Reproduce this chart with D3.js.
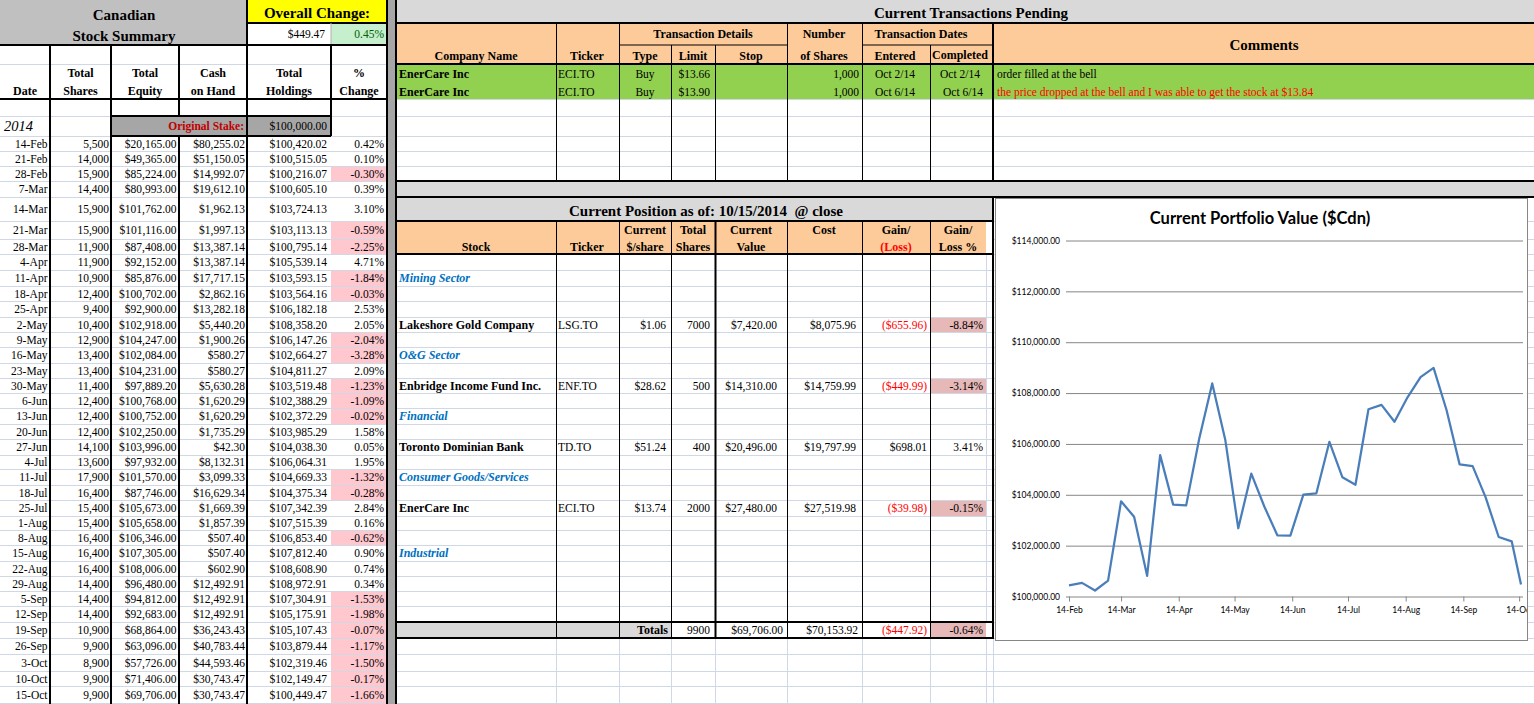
<!DOCTYPE html>
<html>
<head>
<meta charset="utf-8">
<script src="https://cdn.jsdelivr.net/npm/d3@7"></script>
<style>
  body { margin: 0; background: #fff; overflow: hidden; }
  svg text { font-family: "Liberation Serif", "Times New Roman", serif; white-space: pre; }
  .chart text { font-family: Lato, "Open Sans", sans-serif; }
</style>
</head>
<body>
<script>
(function (d3) {
  "use strict";

  /***** Données *****/
  // Résumé hebdomadaire (colonne de gauche)
  var weekLabels = ["14-Feb", "21-Feb", "28-Feb", "7-Mar", "14-Mar", "21-Mar", "28-Mar", "4-Apr", "11-Apr",
    "18-Apr", "25-Apr", "2-May", "9-May", "16-May", "23-May", "30-May", "6-Jun", "13-Jun", "20-Jun", "27-Jun",
    "4-Jul", "11-Jul", "18-Jul", "25-Jul", "1-Aug", "8-Aug", "15-Aug", "22-Aug", "29-Aug", "5-Sep", "12-Sep",
    "19-Sep", "26-Sep", "3-Oct", "10-Oct", "15-Oct"];
  var totalShares = [5500, 14000, 15900, 14400, 15900, 15900, 11900, 11900, 10900, 12400, 9400, 10400, 12900,
    13400, 13400, 11400, 12400, 12400, 12400, 14100, 13600, 17900, 16400, 15400, 15400, 16400, 16400, 16400,
    14400, 14400, 14400, 10900, 9900, 8900, 9900, 9900];
  var totalEquity = [20165, 49365, 85224, 80993, 101762, 101116, 87408, 92152, 85876, 100702, 92900, 102918,
    104247, 102084, 104231, 97889.20, 100768, 100752, 102250, 103996, 97932, 101570, 87746, 105673, 105658,
    106346, 107305, 108006, 96480, 94812, 92683, 68864, 63096, 57726, 71406, 69706];
  var cashOnHand = [80255.02, 51150.05, 14992.07, 19612.10, 1962.13, 1997.13, 13387.14, 13387.14, 17717.15,
    2862.16, 13282.18, 5440.20, 1900.26, 580.27, 580.27, 5630.28, 1620.29, 1620.29, 1735.29, 42.30, 8132.31,
    3099.33, 16629.34, 1669.39, 1857.39, 507.40, 507.40, 602.90, 12492.91, 12492.91, 12492.91, 36243.43,
    40783.44, 44593.46, 30743.47, 30743.47];
  var totalHoldings = [100420.02, 100515.05, 100216.07, 100605.10, 103724.13, 103113.13, 100795.14, 105539.14,
    103593.15, 103564.16, 106182.18, 108358.20, 106147.26, 102664.27, 104811.27, 103519.48, 102388.29,
    102372.29, 103985.29, 104038.30, 106064.31, 104669.33, 104375.34, 107342.39, 107515.39, 106853.40,
    107812.40, 108608.90, 108972.91, 107304.91, 105175.91, 105107.43, 103879.44, 102319.46, 102149.47,
    100449.47];
  var pctChange = [0.42, 0.10, -0.30, 0.39, 3.10, -0.59, -2.25, 4.71, -1.84, -0.03, 2.53, 2.05, -2.04, -3.28,
    2.09, -1.23, -1.09, -0.02, 1.58, 0.05, 1.95, -1.32, -0.28, 2.84, 0.16, -0.62, 0.90, 0.74, 0.34, -1.53,
    -1.98, -0.07, -1.17, -1.50, -0.17, -1.66];
  var originalStake = 100000;
  var overallChange = 449.47;
  var overallChangePct = 0.45;

  // Transactions en attente
  var pendingCompany = ["EnerCare Inc", "EnerCare Inc"];
  var pendingTicker = ["ECI.TO", "ECI.TO"];
  var pendingType = ["Buy", "Buy"];
  var pendingLimit = [13.66, 13.90];
  var pendingShares = [1000, 1000];
  var pendingEntered = ["Oct 2/14", "Oct 6/14"];
  var pendingCompleted = ["Oct 2/14", "Oct 6/14"];
  var pendingComments = ["order filled at the bell",
    "the price dropped at the bell and I was able to get the stock at $13.84"];

  // Position actuelle
  var sectorNames = ["Mining Sector", "O&G Sector", "Financial", "Consumer Goods/Services", "Industrial"];
  var stockNames = ["Lakeshore Gold Company", "Enbridge Income Fund Inc.", "Toronto Dominian Bank", "EnerCare Inc"];
  var stockTickers = ["LSG.TO", "ENF.TO", "TD.TO", "ECI.TO"];
  var stockPrice = [1.06, 28.62, 51.24, 13.74];
  var stockShares = [7000, 500, 400, 2000];
  var stockValue = [7420.00, 14310.00, 20496.00, 27480.00];
  var stockCost = [8075.96, 14759.99, 19797.99, 27519.98];
  var stockGain = [-655.96, -449.99, 698.01, -39.98];
  var stockGainPct = [-8.84, -3.14, 3.41, -0.15];
  var totalsValues = [9900, 69706.00, 70153.92, -447.92, -0.64];

  // Graphique
  var chartXTicks = ["14-Feb", "14-Mar", "14-Apr", "14-May", "14-Jun", "14-Jul", "14-Aug", "14-Sep", "14-Oct"];
  var chartYTicks = [100000, 102000, 104000, 106000, 108000, 110000, 112000, 114000];

  /***** Mise en page *****/
  var W = 1534, H = 704;
  var rowY = [0, 23, 45, 64, 82, 99, 116, 136, 151, 166, 181, 197, 221, 239, 254, 270, 286, 301, 317, 332,
    347, 363, 378, 393, 408, 424, 439, 455, 469, 485, 500, 516, 530, 545, 561, 576, 591, 606, 622, 638, 654,
    671, 686, 703];
  var leftCol = [0, 50, 111, 179, 247, 331, 387];
  var rightCol = [397, 556, 619, 671, 715, 787, 862, 930, 986, 993];
  var firstDataRow = 7;
  var sectorRowIdx = [15, 20, 24, 28, 33];
  var stockRowIdx = [18, 22, 26, 30];
  var totalsRowIdx = 38;

  var GRID = "#d0d7e5", ORANGE = "#fdcb99", GREY = "#d9d9d9", GREEN = "#92d050";

  var locale = d3.formatLocale({ decimal: ".", thousands: ",", grouping: [3], currency: ["$", ""], minus: "-" });
  var fmtMoney = locale.format("$,.2f");
  var fmtGain = locale.format("($,.2f");
  var fmtInt = locale.format(",d");
  var fmt2 = locale.format(".2f");
  function fmtPct(v) { return fmt2(v) + "%"; }

  var svg = d3.select("body").append("svg").attr("width", W).attr("height", H);
  var gGrid = svg.append("g");
  var gFill = svg.append("g");
  var gLine = svg.append("g");
  var gText = svg.append("g");

  function mid(i0, i1) { return (rowY[i0] + rowY[i1]) / 2; }

  function fill(x0, y0, x1, y1, c) {
    gFill.append("rect").attr("x", x0).attr("y", y0)
      .attr("width", x1 - x0).attr("height", y1 - y0).attr("fill", c);
  }
  function hline(g, x0, x1, y, c, w) {
    g.append("line").attr("x1", x0).attr("x2", x1).attr("y1", y).attr("y2", y)
      .attr("stroke", c).attr("stroke-width", w || 1);
  }
  function vline(g, x, y0, y1, c, w) {
    g.append("line").attr("x1", x).attr("x2", x).attr("y1", y0).attr("y2", y1)
      .attr("stroke", c).attr("stroke-width", w || 1);
  }
  function txt(x, y, s, o) {
    o = o || {};
    gText.append("text").attr("x", x).attr("y", y)
      .attr("dy", "0.35em")
      .attr("text-anchor", o.anchor || "start")
      .attr("font-size", (o.size || 11.5) + "px")
      .attr("font-weight", o.weight || "normal")
      .attr("font-style", o.style || "normal")
      .attr("fill", o.fill || "#000")
      .text(s);
  }

  /***** Quadrillage de la feuille *****/
  rowY.forEach(function (y, i) {
    if (i === 0 || i === 4) return;
    hline(gGrid, 0, W, y + 0.5, GRID);
  });
  rightCol.slice(1).forEach(function (x) { vline(gGrid, x + 0.5, rowY[39], H, GRID); });
  vline(gGrid, 986.5, rowY[14], rowY[38], GRID);

  /***** Bloc de gauche : résumé *****/
  fill(0, 0, 247, rowY[2], "#c0c0c0");
  fill(247, 0, 387, rowY[1], "#ffff00");
  fill(247, rowY[1], 331, rowY[2], "#fff");
  fill(331, rowY[1], 387, rowY[2], "#c6efce");
  fill(0, rowY[2], 387, rowY[3], "#fff");
  fill(0, rowY[3] + 1, 387, rowY[5], "#fff");
  fill(111, rowY[6], 331, rowY[7], "#a6a6a6");

  txt(124, mid(0, 1) + 3, "Canadian", { anchor: "middle", size: 15, weight: "bold" });
  txt(124, mid(1, 2) + 2, "Stock Summary", { anchor: "middle", size: 15, weight: "bold" });
  txt(317, mid(0, 1) + 1.5, "Overall Change:", { anchor: "middle", size: 15, weight: "bold" });
  txt(325, mid(1, 2), fmtMoney(overallChange), { anchor: "end" });
  txt(384, mid(1, 2), fmtPct(overallChangePct), { anchor: "end", fill: "#006100" });

  var leftHeads = [["", "Date"], ["Total", "Shares"], ["Total", "Equity"], ["Cash", "on Hand"],
    ["Total", "Holdings"], ["%", "Change"]];
  leftHeads.forEach(function (h, j) {
    var cx = (leftCol[j] + leftCol[j + 1]) / 2;
    if (h[0]) txt(cx, mid(3, 4), h[0], { anchor: "middle", size: 12, weight: "bold" });
    txt(cx, mid(4, 5), h[1], { anchor: "middle", size: 12, weight: "bold" });
  });

  txt(4, mid(6, 7), "2014", { size: 14.5, style: "italic" });
  txt(244, mid(6, 7), "Original Stake:", { anchor: "end", weight: "bold", fill: "#c00000" });
  txt(327, mid(6, 7), fmtMoney(originalStake), { anchor: "end" });

  weekLabels.forEach(function (d, i) {
    var r = firstDataRow + i, cy = mid(r, r + 1);
    if (pctChange[i] < 0) fill(331, rowY[r] + 1, 386, rowY[r + 1], "#ffc7ce");
    txt(47.5, cy, d, { anchor: "end" });
    txt(109, cy, fmtInt(totalShares[i]), { anchor: "end" });
    txt(176.5, cy, fmtMoney(totalEquity[i]), { anchor: "end" });
    txt(245, cy, fmtMoney(cashOnHand[i]), { anchor: "end" });
    txt(327, cy, fmtMoney(totalHoldings[i]), { anchor: "end" });
    txt(384, cy, fmtPct(pctChange[i]), { anchor: "end" });
  });

  // bordures
  vline(gLine, 247, 0, rowY[2], "#000", 2);
  hline(gLine, 247, 387, rowY[1], "#000", 2);
  vline(gLine, 331, rowY[1], rowY[2], "#b0b0b0", 1);
  hline(gLine, 0, 388, rowY[2], "#000", 2);
  hline(gLine, 0, 388, rowY[5], "#000", 2);
  [50, 111, 247].forEach(function (x) { vline(gLine, x, rowY[2], H, "#000", 2); });
  vline(gLine, 179, rowY[2], rowY[6], "#000", 2);
  vline(gLine, 179, rowY[7], H, "#000", 2);
  vline(gLine, 331, rowY[2], rowY[7], "#000", 2);
  hline(gLine, 111, 331, rowY[6], "#000", 2);
  hline(gLine, 111, 331, rowY[7], "#000", 2);
  vline(gLine, 387, 0, H, "#000", 2);

  // colonne séparatrice
  fill(388, 0, 395, H, "#a6a6a6");
  vline(gLine, 396, 0, H, "#000", 2);

  /***** Transactions en attente *****/
  fill(397, 0, W, rowY[1], GREY);
  fill(397, rowY[1], W, rowY[3], ORANGE);
  fill(397, rowY[3], W, rowY[5], GREEN);
  fill(397, rowY[10], W, rowY[11], GREY);

  txt(971, mid(0, 1) + 1.5, "Current Transactions Pending", { anchor: "middle", size: 15, weight: "bold" });
  txt(476, mid(2, 3) + 1.5, "Company Name", { anchor: "middle", size: 12, weight: "bold" });
  txt(587, mid(2, 3) + 1.5, "Ticker", { anchor: "middle", size: 12, weight: "bold" });
  txt(703, mid(1, 2), "Transaction Details", { anchor: "middle", size: 12, weight: "bold" });
  txt(645, mid(2, 3) + 1.5, "Type", { anchor: "middle", size: 12, weight: "bold" });
  txt(693, mid(2, 3) + 1.5, "Limit", { anchor: "middle", size: 12, weight: "bold" });
  txt(751, mid(2, 3) + 1.5, "Stop", { anchor: "middle", size: 12, weight: "bold" });
  txt(824, mid(1, 2), "Number", { anchor: "middle", size: 12, weight: "bold" });
  txt(824, mid(2, 3) + 1.5, "of Shares", { anchor: "middle", size: 12, weight: "bold" });
  txt(921, mid(1, 2), "Transaction Dates", { anchor: "middle", size: 12, weight: "bold" });
  txt(895, mid(2, 3) + 1.5, "Entered", { anchor: "middle", size: 12, weight: "bold" });
  txt(960, mid(2, 3), "Completed", { anchor: "middle", size: 12, weight: "bold" });
  txt(1264, mid(1, 3) + 1.5, "Comments", { anchor: "middle", size: 15, weight: "bold" });

  pendingCompany.forEach(function (c, i) {
    var cy = mid(3 + i, 4 + i) + 1;
    txt(399, cy, c, { weight: "bold", size: 12 });
    txt(558, cy, pendingTicker[i]);
    txt(645, cy, pendingType[i], { anchor: "middle" });
    txt(710, cy, fmtMoney(pendingLimit[i]), { anchor: "end" });
    txt(859, cy, fmtInt(pendingShares[i]), { anchor: "end" });
    txt(895, cy, pendingEntered[i], { anchor: "middle" });
    txt(960 + i * 3, cy, pendingCompleted[i], { anchor: "middle" });
    txt(997, cy, pendingComments[i], { fill: i === 0 ? "#000" : "#ff0000" });
  });

  hline(gLine, 397, W, rowY[1], "#000", 2);
  hline(gLine, 619, 787, rowY[2], "#000", 1);
  hline(gLine, 862, 993, rowY[2], "#000", 1);
  [556, 619, 787, 862].forEach(function (x) { vline(gLine, x + 0.5, rowY[1], rowY[10], "#000", 1); });
  [671, 715, 930].forEach(function (x) { vline(gLine, x + 0.5, rowY[2], rowY[10], "#000", 1); });
  vline(gLine, 993, rowY[1], rowY[10], "#000", 2);
  hline(gLine, 397, W, rowY[3], "#000", 2);
  hline(gLine, 397, W, rowY[10], "#000", 2);
  hline(gLine, 397, W, rowY[11], "#000", 2);

  /***** Position actuelle *****/
  fill(397, rowY[11], 993, rowY[12], GREY);
  fill(397, rowY[12], 986, rowY[14], ORANGE);
  fill(986, rowY[12], 993, rowY[14], "#fff");
  fill(397, rowY[totalsRowIdx], 671, rowY[totalsRowIdx + 1], GREY);
  fill(671, rowY[totalsRowIdx], 993, rowY[totalsRowIdx + 1], "#fff");

  txt(706, mid(11, 12) + 1.5, "Current Position as of: 10/15/2014  @ close",
    { anchor: "middle", size: 15, weight: "bold" });
  var posHeads = [[476, "", "Stock"], [587, "", "Ticker"], [645, "Current", "$/share"], [693, "Total", "Shares"],
    [751, "Current", "Value"], [824, "Cost", ""], [896, "Gain/", "(Loss)"], [958, "Gain/", "Loss %"]];
  posHeads.forEach(function (h, j) {
    if (h[1]) txt(h[0], mid(12, 13), h[1], { anchor: "middle", size: 12, weight: "bold" });
    if (h[2]) txt(h[0], mid(13, 14), h[2], { anchor: "middle", size: 12, weight: "bold",
      fill: j === 6 ? "#ff0000" : "#000" });
  });

  sectorNames.forEach(function (s, i) {
    txt(399, mid(sectorRowIdx[i], sectorRowIdx[i] + 1), s,
      { weight: "bold", style: "italic", fill: "#0070c0", size: 12 });
  });

  stockNames.forEach(function (s, i) {
    var r = stockRowIdx[i], cy = mid(r, r + 1);
    if (stockGainPct[i] < 0) fill(930, rowY[r] + 1, 986, rowY[r + 1], "#e6b8b7");
    txt(399, cy, s, { weight: "bold", size: 12 });
    txt(558, cy, stockTickers[i]);
    txt(666, cy, fmtMoney(stockPrice[i]), { anchor: "end" });
    txt(710, cy, stockShares[i], { anchor: "end" });
    txt(777, cy, fmtMoney(stockValue[i]), { anchor: "end" });
    txt(856, cy, fmtMoney(stockCost[i]), { anchor: "end" });
    txt(927, cy, fmtGain(stockGain[i]), { anchor: "end", fill: stockGain[i] < 0 ? "#ff0000" : "#000" });
    txt(983, cy, fmtPct(stockGainPct[i]), { anchor: "end" });
  });

  var ty = mid(totalsRowIdx, totalsRowIdx + 1);
  fill(930, rowY[totalsRowIdx] + 1, 986, rowY[totalsRowIdx + 1], "#e6b8b7");
  txt(668, ty, "Totals", { anchor: "end", weight: "bold", size: 12 });
  txt(710, ty, totalsValues[0], { anchor: "end" });
  txt(783, ty, fmtMoney(totalsValues[1]), { anchor: "end" });
  txt(858, ty, fmtMoney(totalsValues[2]), { anchor: "end" });
  txt(927, ty, fmtGain(totalsValues[3]), { anchor: "end", fill: "#ff0000" });
  txt(983, ty, fmtPct(totalsValues[4]), { anchor: "end" });

  hline(gLine, 397, 993, rowY[12], "#000", 2);
  hline(gLine, 397, 993, rowY[14], "#000", 2);
  [556, 619, 671, 715, 787, 862, 930].forEach(function (x) {
    vline(gLine, x + 0.5, rowY[12], rowY[totalsRowIdx + 1], "#000", x === 715 ? 2 : 1);
  });
  vline(gLine, 993, rowY[11], rowY[totalsRowIdx + 1], "#000", 2);
  hline(gLine, 397, 994, rowY[totalsRowIdx], "#000", 2);
  hline(gLine, 397, 994, rowY[totalsRowIdx + 1], "#000", 2);

  /***** Graphique : valeur du portefeuille *****/
  var box = { x0: 995, y0: 198, x1: 1527, y1: 640 };
  var plotLeft = 1066, plotRight = 1523;
  var parseDay = d3.timeParse("%d-%b-%Y");
  var series = weekLabels.map(function (d, i) {
    return { date: parseDay(d + "-2014"), value: totalHoldings[i] };
  });

  var x = d3.scaleTime()
    .domain([series[0].date, series[series.length - 1].date])
    .range([1069, 1521]);
  var y = d3.scaleLinear().domain([100000, 114000]).range([596, 240]);

  var chart = svg.append("g").attr("class", "chart");
  chart.append("defs").append("clipPath").attr("id", "chart-clip")
    .append("rect").attr("x", box.x0).attr("y", box.y0)
    .attr("width", box.x1 - box.x0).attr("height", box.y1 - box.y0);
  chart.append("rect").attr("x", box.x0 + 0.5).attr("y", box.y0 + 0.5)
    .attr("width", box.x1 - box.x0).attr("height", box.y1 - box.y0)
    .attr("fill", "#fff").attr("stroke", "#868686");

  var inner = chart.append("g").attr("clip-path", "url(#chart-clip)");

  inner.append("text")
    .attr("x", 1260).attr("y", 218).attr("dy", "0.35em")
    .attr("text-anchor", "middle").attr("font-size", "16.5px").attr("font-weight", "bold")
    .text("Current Portfolio Value ($Cdn)");

  var yAxis = d3.axisLeft(y)
    .tickValues(chartYTicks)
    .tickFormat(fmtMoney)
    .tickSize(-(plotRight - plotLeft))
    .tickPadding(6);
  var gy = inner.append("g").attr("transform", "translate(" + plotLeft + ",0.5)").call(yAxis);
  gy.select(".domain").remove();
  gy.selectAll(".tick line").attr("stroke", "#868686");
  gy.selectAll(".tick text").attr("font-size", "8.5px").attr("fill", "#000")
    .attr("font-family", "Lato, 'Open Sans', sans-serif");

  var xAxis = d3.axisBottom(x)
    .tickValues(chartXTicks.map(function (d) { return parseDay(d + "-2014"); }))
    .tickFormat(d3.timeFormat("%-d-%b"))
    .tickSize(5)
    .tickPadding(5);
  var gx = inner.append("g").attr("transform", "translate(0," + (y(100000) + 0.5) + ")").call(xAxis);
  gx.select(".domain").remove();
  gx.selectAll(".tick line").attr("stroke", "#868686");
  gx.selectAll(".tick text").attr("font-size", "8.5px").attr("fill", "#000")
    .attr("font-family", "Lato, 'Open Sans', sans-serif");

  var line = d3.line()
    .x(function (d) { return x(d.date); })
    .y(function (d) { return y(d.value); });

  inner.append("path")
    .datum(series)
    .attr("d", line)
    .attr("fill", "none")
    .attr("stroke", "#4a7ebb")
    .attr("stroke-width", 2.25)
    .attr("stroke-linejoin", "round");
})(d3);
</script>
</body>
</html>
